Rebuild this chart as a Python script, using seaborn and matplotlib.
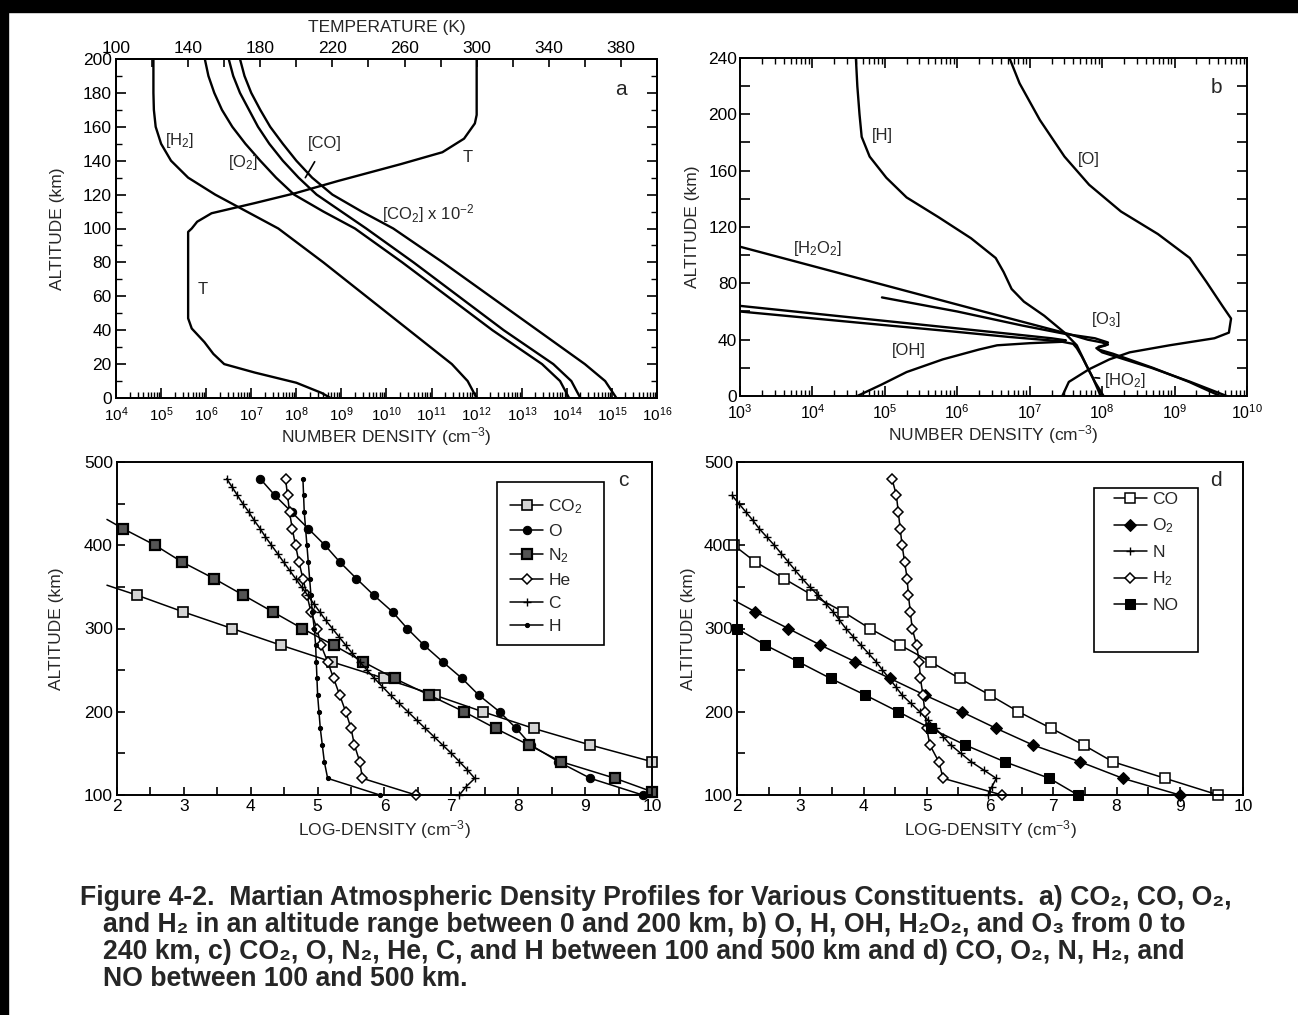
import numpy as np
import matplotlib
matplotlib.use('Agg')
import matplotlib.pyplot as plt
import seaborn as sns
from matplotlib.ticker import LogLocator, MultipleLocator, FixedLocator, NullFormatter
from matplotlib.patches import Rectangle

sns.set_style('ticks')
plt.rcParams['font.family'] = ['Liberation Sans', 'DejaVu Sans']
plt.rcParams['mathtext.fontset'] = 'custom'
plt.rcParams['mathtext.rm'] = 'Liberation Sans'
plt.rcParams['mathtext.it'] = 'Liberation Sans:italic'
plt.rcParams['mathtext.bf'] = 'Liberation Sans:bold'
plt.rcParams['axes.linewidth'] = 1.4
plt.rcParams['axes.edgecolor'] = 'black'
plt.rcParams['xtick.direction'] = 'in'
plt.rcParams['ytick.direction'] = 'in'
plt.rcParams['xtick.color'] = 'black'
plt.rcParams['ytick.color'] = 'black'

# ---- panel a : log10 number density (cm-3) vs altitude (km) ----
a_alt = [200, 190, 180, 170, 160, 150, 140, 130, 120, 110, 100, 80, 60, 40, 20, 10, 0]
a_h2 = [4.83, 4.83, 4.83, 4.84, 4.88, 5.0, 5.22, 5.6, 6.2, 6.9, 7.6, 8.6, 9.55, 10.5, 11.45, 11.8, 12.0]
a_o2 = [5.97, 6.05, 6.18, 6.35, 6.58, 6.87, 7.2, 7.55, 7.95, 8.6, 9.3, 10.35, 11.35, 12.35, 13.45, 13.85, 14.05]
a_co = [6.5, 6.6, 6.75, 6.95, 7.15, 7.4, 7.7, 8.05, 8.45, 9.0, 9.55, 10.6, 11.6, 12.6, 13.7, 14.1, 14.3]
a_co2 = [6.75, 6.85, 7.0, 7.2, 7.42, 7.7, 8.0, 8.35, 8.8, 9.45, 10.15, 11.25, 12.3, 13.35, 14.4, 14.85, 15.1]
# temperature profile (K)
t_alt = [200, 167, 162, 153, 145, 138, 128, 121, 115, 109, 104, 100, 98, 60, 47, 41, 33, 26, 20, 15, 9, 3, 0]
t_val = [300, 300, 299, 293, 281, 258, 223, 200, 177, 153, 145, 142, 140, 140, 140, 142, 149, 154, 160, 177, 200, 214, 219]

# ---- panel b ----
b_h_alt = [240, 220, 200, 184, 170, 155, 141, 127, 112, 98, 88, 76, 67, 57, 45, 36, 20, 10, 0]
b_h = [4.6, 4.62, 4.65, 4.68, 4.79, 5.02, 5.3, 5.74, 6.19, 6.53, 6.64, 6.75, 6.92, 7.2, 7.48, 7.65, 7.8, 7.9, 8.02]
b_o_alt = [240, 222, 196, 170, 150, 131, 115, 98, 81, 64, 55, 45, 41, 36, 31, 26, 19, 10, 0]
b_o = [6.72, 6.86, 7.14, 7.48, 7.82, 8.26, 8.77, 9.21, 9.44, 9.66, 9.78, 9.75, 9.55, 8.93, 8.38, 8.1, 7.82, 7.54, 7.45]
b_h2o2_alt = [106, 90, 80, 70, 60, 50, 44, 40, 38, 36.5, 35, 33, 30, 20, 10, 0]
b_h2o2 = [3.0, 4.17, 4.9, 5.63, 6.36, 7.1, 7.54, 7.8, 8.0, 8.08, 7.95, 7.95, 8.15, 8.7, 9.2, 9.63]
b_o3_alt = [70, 60, 50, 44, 41, 38, 36, 34, 31, 20, 10, 0]
b_o3 = [4.96, 6.0, 6.9, 7.5, 7.9, 8.08, 8.05, 7.92, 8.0, 8.68, 9.22, 9.72]
b_oh_alt = [64, 56, 48, 44, 41, 39.5, 38.5, 37.5, 36, 33, 26, 17, 8, 0]
b_oh = [3.0, 4.5, 6.0, 6.75, 7.3, 7.5, 7.45, 7.0, 6.55, 6.3, 5.8, 5.3, 4.95, 4.62]
b_ho2_alt = [60, 52, 46, 42, 39, 37, 34, 28, 20, 13, 6, 0]
b_ho2 = [3.0, 4.65, 5.9, 6.7, 7.4, 7.6, 7.65, 7.72, 7.8, 7.87, 7.93, 7.98]

# ---- panel c : log-density vs altitude, 100-500 km ----
c_alt = [480, 460, 440, 420, 400, 380, 360, 340, 320, 300, 280, 260, 240, 220, 200, 180, 160, 140, 120, 100]
c_o = [4.14, 4.36, 4.61, 4.86, 5.11, 5.33, 5.58, 5.84, 6.12, 6.34, 6.59, 6.87, 7.16, 7.41, 7.72, 7.97, 8.19, 8.6, 9.08, 9.86]
c_he = [4.52, 4.55, 4.58, 4.62, 4.67, 4.72, 4.78, 4.84, 4.9, 4.99, 5.05, 5.15, 5.24, 5.33, 5.42, 5.5, 5.55, 5.63, 5.67, 6.47]
c_h = [4.78, 4.79, 4.8, 4.82, 4.84, 4.86, 4.88, 4.9, 4.92, 4.95, 4.97, 4.98, 4.99, 5.0, 5.02, 5.04, 5.07, 5.1, 5.15, 5.93]
c_co2_alt = [340, 320, 300, 280, 260, 240, 220, 200, 180, 160, 140]
c_co2 = [2.3, 2.99, 3.72, 4.45, 5.21, 6.0, 6.75, 7.47, 8.23, 9.08, 10.0]
c_co2_tail_alt = [352, 340]
c_co2_tail = [1.85, 2.3]
c_n2_alt = [420, 400, 380, 360, 340, 320, 300, 280, 260, 240, 220, 200, 180, 160, 140, 120, 104]
c_n2 = [2.09, 2.57, 2.97, 3.45, 3.89, 4.33, 4.77, 5.24, 5.68, 6.15, 6.67, 7.19, 7.66, 8.16, 8.64, 9.45, 10.0]
c_n2_tail_alt = [431, 420]
c_n2_tail = [1.85, 2.09]
c_c_alt = [480, 470, 460, 450, 440, 430, 420, 410, 400, 390, 380, 370, 360, 350, 340, 330, 320, 310, 300, 290,
           280, 270, 260, 250, 240, 230, 220, 210, 200, 190, 180, 170, 160, 150, 140, 130, 120, 110, 100]
c_c = [3.64, 3.72, 3.8, 3.88, 3.97, 4.05, 4.14, 4.22, 4.31, 4.4, 4.49, 4.58, 4.67, 4.76, 4.85, 4.94, 5.03, 5.12,
       5.22, 5.32, 5.42, 5.52, 5.63, 5.74, 5.85, 5.97, 6.09, 6.22, 6.35, 6.48, 6.61, 6.74, 6.87, 7.0, 7.12, 7.24,
       7.35, 7.22, 7.12]

# ---- panel d ----
d_co_alt = [400, 380, 360, 340, 320, 300, 280, 260, 240, 220, 200, 180, 160, 140, 120, 100]
d_co = [1.95, 2.29, 2.74, 3.19, 3.68, 4.1, 4.58, 5.06, 5.52, 6.0, 6.45, 6.97, 7.48, 7.94, 8.77, 9.61]
d_o2_alt = [320, 300, 280, 260, 240, 220, 200, 180, 160, 140, 120, 100]
d_o2 = [2.29, 2.81, 3.32, 3.87, 4.42, 4.97, 5.55, 6.1, 6.68, 7.42, 8.1, 9.0]
d_o2_tail_alt = [334, 320]
d_o2_tail = [1.95, 2.29]
d_n_alt = [460, 450, 440, 430, 420, 410, 400, 390, 380, 370, 360, 350, 340, 330, 320, 310, 300, 290, 280,
           270, 260, 250, 240, 230, 220, 210, 200, 190, 180, 170, 160, 150, 140, 130, 120, 110, 100]
d_n = [1.92, 2.03, 2.14, 2.25, 2.35, 2.47, 2.59, 2.7, 2.81, 2.92, 3.03, 3.15, 3.28, 3.4, 3.52, 3.62, 3.72,
       3.84, 3.96, 4.08, 4.2, 4.3, 4.41, 4.51, 4.61, 4.75, 4.89, 5.02, 5.14, 5.26, 5.38, 5.54, 5.7, 5.9, 6.1,
       6.03, 5.97]
d_h2_alt = c_alt
d_h2 = [4.45, 4.52, 4.55, 4.58, 4.61, 4.65, 4.69, 4.71, 4.74, 4.77, 4.84, 4.88, 4.9, 4.94, 4.97, 5.0, 5.05,
        5.19, 5.26, 6.19]
d_no_alt = [300, 280, 260, 240, 220, 200, 180, 160, 140, 120, 100]
d_no = [2.0, 2.45, 2.97, 3.48, 4.03, 4.55, 5.06, 5.61, 6.23, 6.94, 7.39]

caption = [
    "Figure 4-2.  Martian Atmospheric Density Profiles for Various Constituents.  a) CO\u2082, CO, O\u2082,",
    "and H\u2082 in an altitude range between 0 and 200 km, b) O, H, OH, H\u2082O\u2082, and O\u2083 from 0 to",
    "240 km, c) CO\u2082, O, N\u2082, He, C, and H between 100 and 500 km and d) CO, O\u2082, N, H\u2082, and",
    "NO between 100 and 500 km.",
]

W, H = 1298, 1015
FS = 12.5
fig = plt.figure(figsize=(W / 100, H / 100), dpi=100)


def px_axes(x0, y0, x1, y1):
    return fig.add_axes([x0 / W, 1 - y1 / H, (x1 - x0) / W, (y1 - y0) / H])


def curve(ax, logn, alt, lw=1.7):
    sns.lineplot(x=10.0 ** np.array(logn), y=alt, sort=False, estimator=None,
                 color='black', lw=lw, ax=ax)


def prof(ax, logn, alt, **kw):
    sns.lineplot(x=logn, y=alt, sort=False, estimator=None, color='black',
                 lw=1.1, clip_on=False, ax=ax, **kw)
    return ax.lines[-1]


def log_ticks(ax, top, size):
    ax.set_xscale('log')
    ax.xaxis.set_major_locator(LogLocator(base=10, numticks=30))
    ax.xaxis.set_minor_locator(LogLocator(base=10, subs=np.arange(2, 10), numticks=30))
    ax.xaxis.set_minor_formatter(NullFormatter())
    ax.tick_params(axis='x', which='major', length=7, width=1.2, top=top, pad=5, labelsize=size)
    ax.tick_params(axis='x', which='minor', length=4, width=1.0, top=top)


# ---------------- panel a ----------------
ax = px_axes(116, 59, 657, 398)
for v in [a_h2, a_o2, a_co, a_co2]:
    curve(ax, v, a_alt)
ax.set_xlim(1e4, 1e16)
ax.set_ylim(0, 200)
log_ticks(ax, False, 11)
ax.yaxis.set_major_locator(MultipleLocator(20))
ax.yaxis.set_minor_locator(MultipleLocator(10))
ax.tick_params(axis='y', which='major', length=7, width=1.2, right=True, labelsize=FS, pad=3)
ax.tick_params(axis='y', which='minor', length=4, width=1.0, right=True)
ax.set_xlabel(r'NUMBER DENSITY (cm$^{-3}$)', fontsize=FS, labelpad=1)
ax.set_ylabel('ALTITUDE (km)', fontsize=FS, labelpad=13)
ax.text(10 ** 5.42, 152, r'[H$_2$]', fontsize=12, ha='center', va='center')
ax.text(10 ** 6.82, 139, r'[O$_2$]', fontsize=12, ha='center', va='center')
ax.annotate('[CO]', xy=(10 ** 8.2, 130), xytext=(10 ** 8.64, 150), fontsize=12,
            ha='center', va='center', arrowprops=dict(arrowstyle='-', lw=1.2, color='black', shrinkA=6, shrinkB=0))
ax.text(10 ** 9.9, 109, r'[CO$_2$] x 10$^{-2}$', fontsize=12, ha='left', va='center')
ax.text(10 ** 11.81, 142, 'T', fontsize=12, ha='center', va='center')
ax.text(10 ** 5.93, 64, 'T', fontsize=12, ha='center', va='center')
ax.text(10 ** 15.2, 182, 'a', fontsize=15, ha='center', va='center')

axt = ax.twiny()
sns.lineplot(x=t_val, y=t_alt, sort=False, estimator=None, color='black', lw=1.7, ax=axt)
axt.set_xlim(100, 400)
axt.set_ylim(0, 200)
axt.xaxis.set_major_locator(FixedLocator(np.arange(100, 381, 40)))
axt.xaxis.set_minor_locator(FixedLocator(np.arange(100, 401, 20)))
axt.tick_params(axis='x', which='major', length=6, width=1.2, labelsize=FS, pad=2)
axt.tick_params(axis='x', which='minor', length=6, width=1.2)
axt.set_xlabel('TEMPERATURE (K)', fontsize=FS, labelpad=7)

# ---------------- panel b ----------------
ax = px_axes(740, 58, 1247, 396)
for v, a in [(b_h, b_h_alt), (b_o, b_o_alt), (b_h2o2, b_h2o2_alt), (b_o3, b_o3_alt),
             (b_oh, b_oh_alt), (b_ho2, b_ho2_alt)]:
    curve(ax, v, a)
ax.set_xlim(1e3, 1e10)
ax.set_ylim(0, 240)
log_ticks(ax, True, 11.5)
ax.yaxis.set_major_locator(MultipleLocator(40))
ax.yaxis.set_minor_locator(MultipleLocator(20))
ax.tick_params(axis='y', which='major', length=7, width=1.2, right=True, labelsize=FS, pad=2)
ax.tick_params(axis='y', which='minor', length=7, width=1.2, right=True)
ax.set_xlabel(r'NUMBER DENSITY (cm$^{-3}$)', fontsize=FS, labelpad=1)
ax.set_ylabel('ALTITUDE (km)', fontsize=FS, labelpad=6)
ax.text(10 ** 4.97, 185, '[H]', fontsize=12, ha='center', va='center')
ax.text(10 ** 7.82, 168, '[O]', fontsize=12, ha='center', va='center')
ax.text(10 ** 4.07, 105, r'[H$_2$O$_2$]', fontsize=12, ha='center', va='center')
ax.text(10 ** 8.06, 54, r'[O$_3$]', fontsize=12, ha='center', va='center')
ax.text(10 ** 5.33, 32, '[OH]', fontsize=12, ha='center', va='center')
ax.annotate(r'[HO$_2$]', xy=(10 ** 7.9, 13), xytext=(10 ** 8.03, 11), fontsize=12,
            ha='left', va='center', arrowprops=dict(arrowstyle='-', lw=1.2, color='black', shrinkA=1, shrinkB=0))
ax.text(10 ** 9.58, 219, 'b', fontsize=15, ha='center', va='center')


def lin_axes(ax, letter, pad):
    ax.set_xlim(2, 10)
    ax.set_ylim(100, 500)
    ax.xaxis.set_major_locator(MultipleLocator(1))
    ax.xaxis.set_minor_locator(MultipleLocator(0.5))
    ax.yaxis.set_major_locator(MultipleLocator(100))
    ax.yaxis.set_minor_locator(MultipleLocator(50))
    ax.tick_params(which='major', length=6, width=1.2, top=False, right=False, labelsize=FS, pad=3)
    ax.tick_params(which='minor', length=6, width=1.2, top=False, right=False)
    ax.set_xlabel(r'LOG-DENSITY (cm$^{-3}$)', fontsize=FS, labelpad=3)
    ax.set_ylabel('ALTITUDE (km)', fontsize=FS, labelpad=pad)
    ax.text(9.57, 478, letter, fontsize=15, ha='center', va='center')


# ---------------- panel c ----------------
ax = px_axes(117, 462, 652, 795)
prof(ax, c_co2_tail, c_co2_tail_alt)
prof(ax, c_n2_tail, c_n2_tail_alt)
hc = [
    prof(ax, c_co2, c_co2_alt, marker='s', ms=7, mfc='#d4d4d4', mec='black', mew=1.2),
    prof(ax, c_o, c_alt, marker='o', ms=6, mfc='black', mec='black'),
    prof(ax, c_n2, c_n2_alt, marker='s', ms=7, mfc='#555555', mec='black', mew=1.6),
    prof(ax, c_he, c_alt, marker='D', ms=5.5, mfc='white', mec='black', mew=1.1),
    prof(ax, c_c, c_c_alt, marker='+', ms=6, mec='black', mew=1.0),
    prof(ax, c_h, c_alt, marker='o', ms=3, mfc='black', mec='black'),
]
lin_axes(ax, 'c', 14)
ax.legend(hc, [r'CO$_2$', 'O', r'N$_2$', 'He', 'C', 'H'], loc='upper left',
          bbox_to_anchor=(0.735, 0.895), frameon=False, fontsize=FS, handlelength=1.9,
          handletextpad=0.3, labelspacing=0.45, borderaxespad=0, borderpad=0)
ax.add_patch(Rectangle((0.71, 0.45), 0.2, 0.49, transform=ax.transAxes,
                       fill=False, lw=1.2, ec='black'))

# ---------------- panel d ----------------
ax = px_axes(737, 462, 1243, 795)
prof(ax, d_o2_tail, d_o2_tail_alt)
hd = [
    prof(ax, d_co, d_co_alt, marker='s', ms=6.5, mfc='white', mec='black', mew=1.1),
    prof(ax, d_o2, d_o2_alt, marker='D', ms=6, mfc='black', mec='black'),
    prof(ax, d_n, d_n_alt, marker='+', ms=6, mec='black', mew=1.0),
    prof(ax, d_h2, d_h2_alt, marker='D', ms=5.5, mfc='white', mec='black', mew=1.1),
    prof(ax, d_no, d_no_alt, marker='s', ms=7.5, mfc='black', mec='black'),
]
lin_axes(ax, 'd', 6)
ax.legend(hd, ['CO', r'O$_2$', 'N', r'H$_2$', 'NO'], loc='upper left',
          bbox_to_anchor=(0.745, 0.91), frameon=False, fontsize=FS, handlelength=1.9,
          handletextpad=0.3, labelspacing=0.55, borderaxespad=0, borderpad=0)
ax.add_patch(Rectangle((0.706, 0.429), 0.205, 0.492, transform=ax.transAxes,
                       fill=False, lw=1.2, ec='black'))

# ---------------- caption ----------------
for i, line in enumerate(caption):
    x0 = 80 if i == 0 else 103
    fig.text(x0 / W, 1 - (898 + 27 * i) / H, line, fontsize=19.2, fontweight='bold',
             family=['Liberation Sans', 'DejaVu Sans'], ha='left', va='center')

# dark scan border
fig.add_artist(Rectangle((0, 1 - 12 / H), 1, 12 / H, transform=fig.transFigure, color='black', zorder=10))
fig.add_artist(Rectangle((0, 0), 8 / W, 1, transform=fig.transFigure, color='black', zorder=10))

fig.savefig('out.png', dpi=100)
